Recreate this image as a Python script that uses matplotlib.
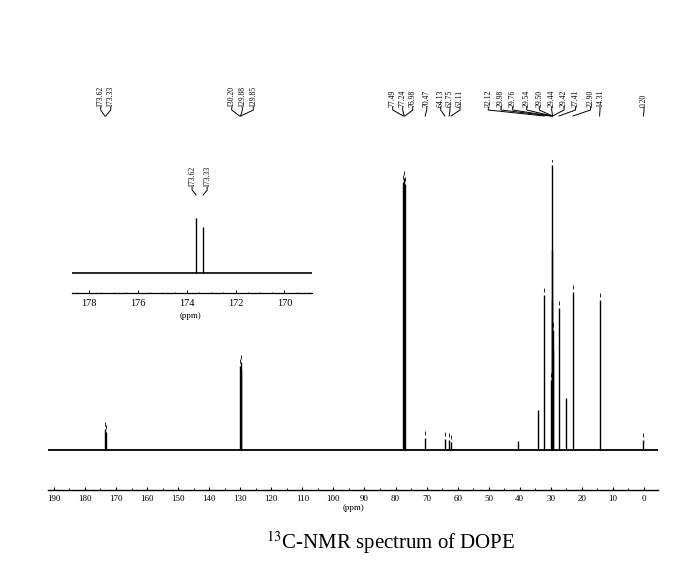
import matplotlib.pyplot as plt
from matplotlib.lines import Line2D
from matplotlib.ticker import MultipleLocator

plt.rcParams['font.family'] = ['Liberation Serif', 'DejaVu Serif']
plt.rcParams['mathtext.fontset'] = 'stix'

# peaks: shift (ppm) and height (arbitrary units)
peak_ppm = [173.62, 173.33, 130.20, 129.88, 129.85, 77.49, 77.24, 76.98,
            70.47, 64.13, 62.75, 62.11, 40.45, 34.10, 32.12, 29.98, 29.76,
            29.54, 29.50, 29.44, 29.42, 27.41, 25.05, 22.90, 14.31, 0.20]
peak_int = [21, 18, 84, 88, 80, 268, 272, 266,
            12, 11, 10, 8, 9, 40, 155, 70, 285,
            200, 150, 120, 100, 142, 52, 158, 150, 10]

# peaks that carry a printed label
label_ppm = [173.62, 173.33, 130.20, 129.88, 129.85, 77.49, 77.24, 76.98,
             70.47, 64.13, 62.75, 62.11, 32.12, 29.98, 29.76, 29.54, 29.50,
             29.44, 29.42, 27.41, 22.90, 14.31, 0.20]

# expanded carbonyl region (inset)
inset_ppm = [173.62, 173.33]
inset_int = [55, 46]

main_ticks = list(range(190, -1, -10))
inset_ticks = [178, 176, 174, 172, 170]

# layout (pixels)
W, H = 695, 585
label_x_px = [100.7, 110.7, 231.7, 242.3, 253.3, 392.7, 402.7, 412.7,
              426.7, 440.7, 450, 460, 488.3, 501, 512.7, 526.7, 539.3,
              551.7, 564, 575.5, 590.5, 600, 644]

fig = plt.figure(figsize=(W / 100, H / 100), dpi=100)


def fx(px):
    return px / W


def fy(py):
    return 1 - py / H


# main spectrum
ax = fig.add_axes([fx(48), fy(490), fx(658) - fx(48), (490 - 160) / H])
ax.set_xlim(191.9, -4.5)
ax.set_ylim(-40, 290)
ax.hlines(0, 191.9, -4.5, color='black', lw=1.3)
ax.vlines(peak_ppm, 0, peak_int, color='black', lw=1.0)
for p, h in zip(peak_ppm, peak_int):
    if p in label_ppm:
        ax.plot(p, h + 5, marker='|', ms=3, color='black', mew=0.6)
for s in ['left', 'right', 'top']:
    ax.spines[s].set_visible(False)
ax.spines['bottom'].set_linewidth(1.0)
ax.set_yticks([])
ax.set_xticks(main_ticks)
ax.xaxis.set_minor_locator(MultipleLocator(5))
ax.tick_params(axis='x', which='major', direction='in', length=2.5,
               width=0.8, pad=3.5, labelsize=6.5)
ax.tick_params(axis='x', which='minor', direction='in', length=1.5, width=0.6)
fig.text(fx(353.5), fy(508), '(ppm)', ha='center', va='center', fontsize=6.5)

# inset
axi = fig.add_axes([fx(71.7), fy(293), 240 / W, 100 / H])
axi.set_xlim(178.72, 168.88)
axi.set_ylim(-20, 80)
axi.hlines(0, 178.72, 168.88, color='black', lw=1.2)
axi.vlines(inset_ppm, 0, inset_int, color='black', lw=1.0)
for s in ['left', 'right', 'top']:
    axi.spines[s].set_visible(False)
axi.spines['bottom'].set_linewidth(0.9)
axi.set_yticks([])
axi.set_xticks(inset_ticks)
axi.xaxis.set_minor_locator(MultipleLocator(0.5))
axi.tick_params(axis='x', which='major', direction='in', length=2,
                width=0.7, pad=4.5, labelsize=7.5)
axi.tick_params(axis='x', which='minor', direction='in', length=1, width=0.5)
fig.text(fx(191), fy(316), '(ppm)', ha='center', va='center', fontsize=6.5)


def peak_px(a, p):
    return a.transData.transform((p, 0))[0]


# top peak labels with connectors
for p, lx in zip(label_ppm, label_x_px):
    px = peak_px(ax, p)
    fig.text(fx(lx), fy(107), f'{p:.2f}', rotation=90, ha='center',
             va='bottom', fontsize=5.5)
    fig.add_artist(Line2D([fx(lx), fx(lx), fx(px)], [fy(107), fy(110), fy(116)],
                          transform=fig.transFigure, color='black', lw=0.7))

# inset labels
for i, p in enumerate(inset_ppm):
    px = peak_px(axi, p)
    lx = px - 4 if i == 0 else px + 4
    fig.text(fx(lx), fy(187), f'{p:.2f}', rotation=90, ha='center',
             va='bottom', fontsize=5.5)
    fig.add_artist(Line2D([fx(lx), fx(lx), fx(px)], [fy(187), fy(190), fy(195)],
                          transform=fig.transFigure, color='black', lw=0.7))

fig.text(fx(266), fy(549), r'$^{13}$C-NMR spectrum of DOPE', ha='left',
         va='baseline', fontsize=15)

fig.savefig('out.png', dpi=100)
